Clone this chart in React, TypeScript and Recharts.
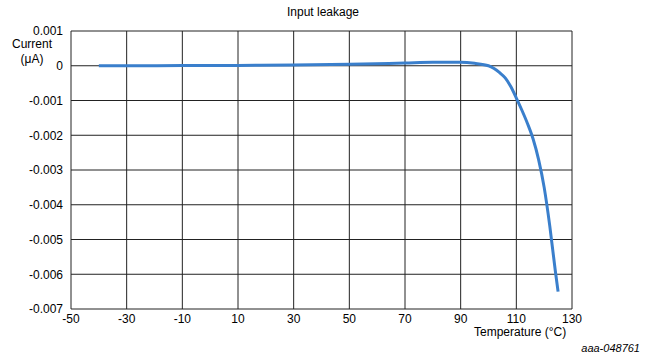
import { LineChart, Line, XAxis, YAxis, CartesianGrid } from 'recharts';

const temps = [-40, -30, -10, 10, 30, 50, 70, 80, 90, 95, 100, 102, 104, 106, 108, 110, 112, 114, 116, 118, 120, 122, 124, 125];
const leakage = [0, 0, 0.000005, 0.00001, 0.00002, 0.00004, 0.00008, 0.0001, 0.0001, 0.00007, 0, -0.00008, -0.0002, -0.00035, -0.0006, -0.00093, -0.00128, -0.00166, -0.0021, -0.0027, -0.0035, -0.0046, -0.0059, -0.0065];

const xTicks = [-50, -30, -10, 10, 30, 50, 70, 90, 110, 130];
const yTicks = [0.001, 0, -0.001, -0.002, -0.003, -0.004, -0.005, -0.006, -0.007];

const data = temps.map((t, i) => ({ t, v: leakage[i] }));

const font = '"Liberation Sans", Arial, sans-serif';
const tickStyle = { fontSize: 12, fill: '#000', fontFamily: font };

export default function App() {
  return (
    <div style={{ position: 'absolute', left: 0, top: 0, width: 646, height: 356, background: '#fff', fontFamily: font, color: '#000' }}>
      <LineChart width={646} height={356} data={data} margin={{ top: 31, right: 74, bottom: 27, left: 0 }}>
        <CartesianGrid stroke="#222" strokeWidth={1} ticks={yTicks} />
        <XAxis
          dataKey="t"
          type="number"
          domain={[-50, 130]}
          ticks={xTicks}
          axisLine={false}
          tickLine={false}
          tickSize={0}
          tickMargin={5}
          height={20}
          tick={tickStyle}
          interval={0}
        />
        <YAxis
          type="number"
          domain={[-0.007, 0.001]}
          ticks={yTicks}
          axisLine={false}
          tickLine={false}
          tickSize={0}
          tickMargin={8}
          width={71}
          tick={tickStyle}
          interval={0}
          tickFormatter={(v: number) => String(v)}
        />
        <Line
          dataKey="v"
          type="monotone"
          stroke="#3a7fcc"
          strokeWidth={3}
          dot={false}
          isAnimationActive={false}
        />
      </LineChart>
      <div style={{ position: 'absolute', left: 0, width: 646, top: 5, textAlign: 'center', fontSize: 12 }}>Input leakage</div>
      <div style={{ position: 'absolute', left: 2, width: 60, top: 37, textAlign: 'center', fontSize: 12, lineHeight: '15px' }}>
        Current<br />(μA)
      </div>
      <div style={{ position: 'absolute', left: 474, top: 325, fontSize: 12 }}>Temperature (°C)</div>
      <div style={{ position: 'absolute', right: 6, top: 342, fontSize: 11, fontStyle: 'italic' }}>aaa-048761</div>
    </div>
  );
}
